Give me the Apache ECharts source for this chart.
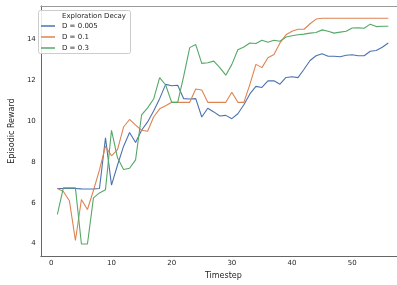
<!DOCTYPE html>
<html>
<head>
<meta charset="utf-8">
<script src="https://cdn.jsdelivr.net/npm/echarts@6/dist/echarts.min.js"></script>
<style>
  html, body { margin: 0; padding: 0; background: #fff; }
  #chart { width: 397px; height: 285px; }
</style>
</head>
<body>
<div id="chart"></div>
<script>
const timesteps = [1, 2, 3, 4, 5, 6, 7, 8, 9, 10, 11, 12, 13, 14, 15, 16, 17, 18, 19, 20,
  21, 22, 23, 24, 25, 26, 27, 28, 29, 30, 31, 32, 33, 34, 35, 36, 37, 38, 39, 40,
  41, 42, 43, 44, 45, 46, 47, 48, 49, 50, 51, 52, 53, 54, 55, 56];

// D = 0.005
const rewardD005 = [6.7, 6.7, 6.7, 6.7, 6.68, 6.67, 6.68, 6.7, 9.18, 6.86,
  7.85, 8.76, 9.44, 8.95, 9.55, 9.96, 10.5, 11.1, 11.8, 11.73,
  11.76, 11.1, 11.08, 11.1, 10.2, 10.63, 10.45, 10.25, 10.28, 10.12,
  10.36, 10.8, 11.33, 11.7, 11.65, 11.97, 11.98, 11.81, 12.14, 12.17,
  12.13, 12.54, 12.97, 13.2, 13.3, 13.18, 13.18, 13.15, 13.23, 13.25,
  13.2, 13.2, 13.42, 13.46, 13.62, 13.83];

// D = 0.1
const rewardD01 = [6.7, 6.55, 6.1, 4.15, 6.16, 5.67, 6.6, 7.61, 8.77, 8.3,
  8.6, 9.71, 10.08, 9.8, 9.55, 9.5, 10.2, 10.6, 10.75, 10.92,
  10.92, 10.92, 10.92, 11.57, 11.52, 10.92, 10.92, 10.92, 10.92, 11.41,
  10.92, 10.92, 11.8, 12.78, 12.62, 13.1, 13.26, 13.83, 14.23, 14.4,
  14.5, 14.5, 14.77, 15.0, 15.04, 15.04, 15.04, 15.04, 15.04, 15.04,
  15.04, 15.04, 15.04, 15.04, 15.04, 15.04];

// D = 0.3
const rewardD03 = [5.43, 6.73, 6.73, 6.73, 3.98, 3.98, 6.24, 6.48, 6.64, 9.55,
  8.2, 7.63, 7.69, 8.1, 10.3, 10.65, 11.08, 12.13, 11.77, 10.92,
  10.92, 12.2, 13.6, 13.75, 12.83, 12.86, 12.94, 12.62, 12.25, 12.78,
  13.5, 13.63, 13.83, 13.8, 13.96, 13.86, 13.96, 13.91, 14.12, 14.18,
  14.23, 14.26, 14.31, 14.34, 14.47, 14.4, 14.31, 14.36, 14.4, 14.56,
  14.57, 14.55, 14.75, 14.63, 14.65, 14.65];

const seriesNames = ['D = 0.005', 'D = 0.1', 'D = 0.3'];
const seriesColors = ['#4C72B0', '#DD8452', '#55A868'];
const xTicks = [0, 10, 20, 30, 40, 50];
const yTicks = [4, 6, 8, 10, 12, 14];

const font = 'DejaVu Sans';
const textColor = '#262626';

const chart = echarts.init(document.getElementById('chart'));

const pairs = (vals) => timesteps.map((t, i) => [t, vals[i]]);

const option = {
  animation: false,
  grid: { left: 34, right: 0, top: 6, bottom: 26 },
  graphic: [
    {
      type: 'rect', z: 3,
      shape: { x: 38.5, y: 10.5, width: 92, height: 43, r: 2 },
      style: { fill: 'rgba(255,255,255,0.85)', stroke: '#ccc', lineWidth: 1 }
    },
    {
      type: 'text', z: 4, x: 62, y: 16,
      style: { text: 'Exploration Decay', font: '7px "DejaVu Sans"', fill: textColor, verticalAlign: 'middle' }
    }
  ],
  legend: {
    left: 41, top: 21.5, orient: 'vertical', padding: 0,
    itemWidth: 14, itemHeight: 1.5, itemGap: 2, icon: 'rect',
    textStyle: { fontFamily: font, fontSize: 7, color: textColor, lineHeight: 9, padding: [0, 0, 0, 2] },
    data: seriesNames
  },
  xAxis: [
    {
      type: 'value', min: -1.75, max: 57.45, position: 'bottom',
      name: 'Timestep', nameLocation: 'middle', nameGap: 13,
      nameTextStyle: { fontFamily: font, fontSize: 8, color: textColor, padding: [0, 0, 0, 9] },
      axisLine: { show: true, onZero: false, lineStyle: { color: '#666', width: 1 } },
      axisTick: { show: false },
      splitLine: { show: false },
      axisLabel: { customValues: xTicks, fontFamily: font, fontSize: 7, color: textColor, margin: 4 }
    },
    {
      // top frame line
      type: 'value', min: -1.75, max: 57.45, position: 'top',
      axisLine: { show: true, onZero: false, lineStyle: { color: '#999', width: 1 } },
      axisTick: { show: false },
      axisLabel: { show: false },
      splitLine: { show: false }
    }
  ],
  yAxis: {
    type: 'value', min: 3.385, max: 15.64,
    name: 'Episodic Reward', nameLocation: 'middle', nameGap: 15,
    nameTextStyle: { fontFamily: font, fontSize: 8, color: textColor },
    axisLine: { show: true, onZero: false, lineStyle: { color: '#666', width: 1 } },
    axisTick: { show: false },
    splitLine: { show: false },
    axisLabel: { customValues: yTicks, fontFamily: font, fontSize: 7, color: textColor, margin: 5 }
  },
  series: [rewardD005, rewardD01, rewardD03].map((vals, i) => ({
    name: seriesNames[i],
    type: 'line',
    xAxisIndex: 0,
    data: pairs(vals),
    symbol: 'none',
    color: seriesColors[i],
    lineStyle: { color: seriesColors[i], width: 1.1 }
  }))
};

chart.setOption(option);
</script>
</body>
</html>
